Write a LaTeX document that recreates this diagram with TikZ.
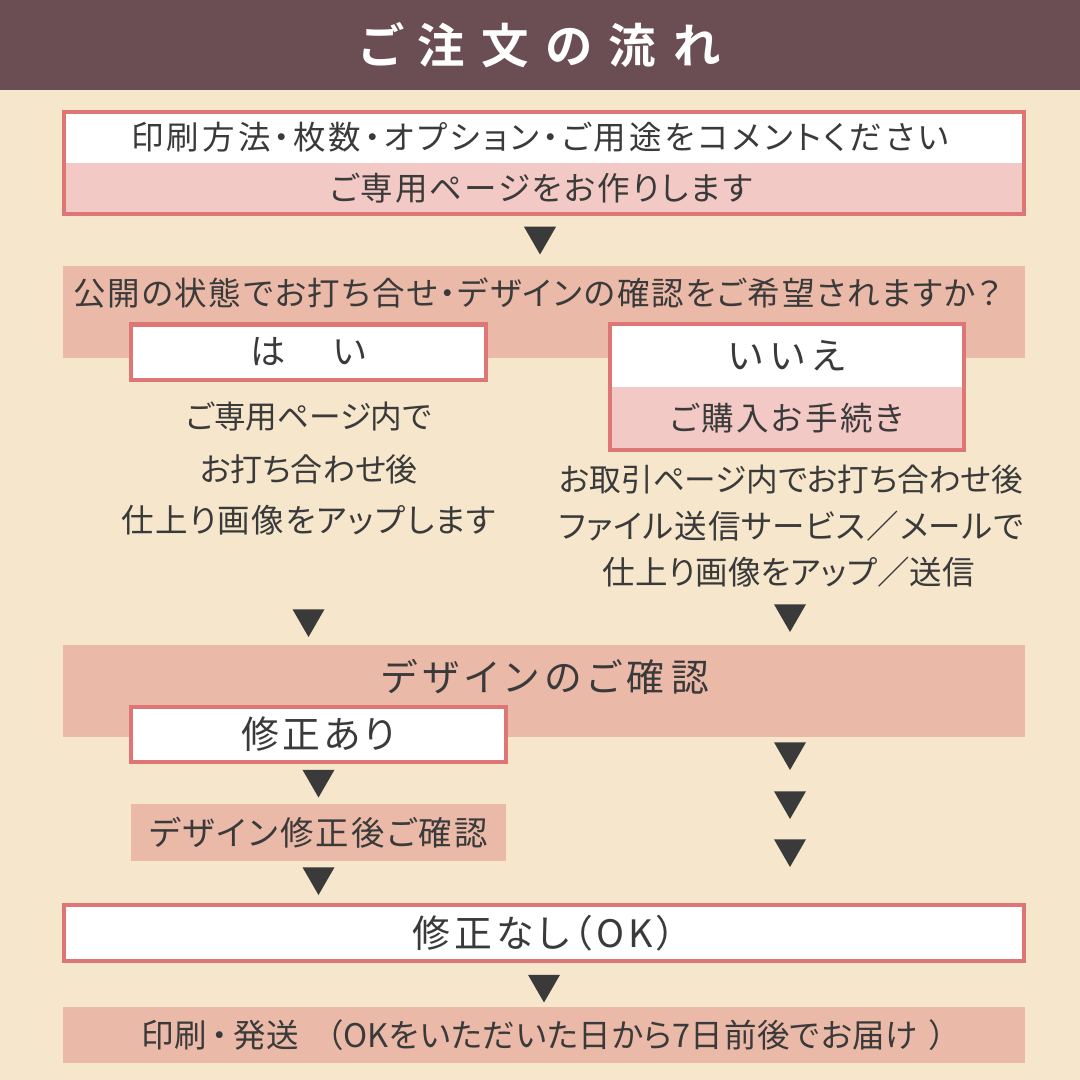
\documentclass[tikz,border=0pt]{standalone}
\usepackage{fontspec}
\setmainfont{Noto Sans CJK JP}[RawFeature=+palt]
\newfontfamily\titlefont{Noto Sans CJK JP}[LetterSpace=35,BoldFont={Noto Sans CJK JP Bold},RawFeature=+palt]
\newcommand{\fs}[2]{\fontsize{#1}{#1}\selectfont\addfontfeatures{LetterSpace=#2}}
\usetikzlibrary{shapes,arrows,positioning}
\definecolor{cream}{HTML}{F5E6CC}
\definecolor{plum}{HTML}{6B4D54}
\definecolor{salmon}{HTML}{EAB9A8}
\definecolor{blush}{HTML}{F2C9C4}
\definecolor{rosered}{HTML}{DF7676}
\definecolor{ink}{HTML}{3A3A3A}
\tikzstyle{band} = [rectangle, fill=salmon, text=ink, inner sep=0pt, minimum height=1.84cm, minimum width=19.24cm]
\tikzstyle{block} = [rectangle, fill=white, draw=rosered, line width=0.08cm, text=ink, inner sep=0pt, minimum height=1.1cm]
\tikzstyle{half} = [rectangle, text=ink, inner sep=0pt, minimum height=1.02cm]
\tikzstyle{frame} = [draw=rosered, line width=0.08cm]
\tikzstyle{note} = [text=ink, inner sep=0pt]
\tikzstyle{tip} = [regular polygon, regular polygon sides=3, shape border rotate=180, fill=ink, inner sep=0pt, minimum size=0.74cm]
\begin{document}
\begin{tikzpicture}[node distance = 2cm]
    \useasboundingbox (0,0) rectangle (21.6,-21.6);
    \fill[cream] (0,0) rectangle (21.6,-21.6);
    \node[rectangle, fill=plum, minimum width=21.6cm, minimum height=1.8cm, inner sep=0pt, text=white, font=\titlefont\bfseries\fontsize{27}{30}\selectfont] (title) at (10.8,-0.9) {ご注文の流れ};

    % order
    \node[half, fill=white, minimum width=19.2cm, font=\fs{18.5}{9.7}] (order) at (10.88,-2.75) {印刷方法・枚数・オプション・ご用途をコメントください\hspace*{0.16cm}};
    \node[half, fill=blush, minimum width=19.2cm, below of=order, node distance=1.02cm, font=\fs{18.5}{6.4}] (page) {ご専用ページをお作りします\hspace*{0.12cm}};
    \draw[frame] (order.north west) rectangle (page.south east);
    \node[tip, below of=page, node distance=0.95cm, xshift=-0.08cm] (t1) {};

    % public or not
    \node[band] (public) at (10.88,-6.24) {};
    \node[note, font=\fs{18.5}{5.4}] (ask) at (10.74,-5.86) {公開の状態でお打ち合せ・デザインの確認をご希望されますか？};
    \node[block, minimum width=7.1cm, font=\fs{20}{18.5}] (yes) at (6.17,-7.04) {は　い};
    \node[half, fill=white, minimum width=7.08cm, minimum height=1.26cm, font=\fs{21}{19}] (no) at (15.74,-7.11) {いいえ};
    \node[half, fill=blush, minimum width=7.08cm, minimum height=1.26cm, below of=no, node distance=1.26cm, font=\fs{18.5}{8}] (buy) {ご購入お手続き};
    \draw[frame] (no.north west) rectangle (buy.south east);

    \node[note, font=\fs{18}{0}] (y1) at (6.18,-8.34) {ご専用ページ内で};
    \node[note, below of=y1, node distance=1.04cm, font=\fs{18.2}{0}] (y2) {お打ち合わせ後};
    \node[note, below of=y2, node distance=1.02cm, font=\fs{18.5}{4}] (y3) {仕上り画像をアップします};
    \node[note, font=\fs{18}{0}] (n1) at (15.82,-9.6) {お取引ページ内でお打ち合わせ後};
    \node[note, below of=n1, node distance=0.92cm, font=\fs{18.5}{2.6}] (n2) {ファイル送信サービス／メールで};
    \node[note, below of=n2, node distance=0.92cm, font=\fs{18.5}{0.5}, xshift=-0.04cm] (n3) {仕上り画像をアップ／送信};
    \node[tip] (t2) at (6.17,-12.37) {};
    \node[tip] (t3) at (15.8,-12.27) {};

    % check
    \node[band] (check) at (10.88,-13.82) {};
    \node[note, font=\fs{21.5}{16.6}] (checktext) at (10.9,-13.54) {デザインのご確認};
    \node[block, minimum width=7.5cm, font=\fs{21.5}{9.5}] (fix) at (6.37,-14.68) {修正あり};
    \node[tip, below of=fix, node distance=0.9cm] (t4) {};
    \node[band, minimum width=7.5cm, minimum height=1.14cm, font=\fs{19}{6.6}] (refix) at (6.37,-16.65) {デザイン修正後ご確認};
    \node[tip] (t5) at (6.37,-17.53) {};
    \node[tip] (t6) at (15.8,-15.03) {};
    \node[tip, below of=t6, node distance=0.98cm] (t7) {};
    \node[tip, below of=t7, node distance=0.96cm] (t8) {};

    % finish
    \node[block, minimum width=19.2cm, minimum height=1.12cm, font=\fs{21.5}{10.6}] (ok) at (10.88,-18.66) {修正なし（OK）};
    \node[tip, below of=ok, node distance=1.02cm] (t9) {};
    \node[band, minimum height=1.12cm, font=\fs{18.5}{1.6}] (send) at (10.88,-20.7) {印刷\hspace{0.15em}・\hspace{0.15em}発送\hspace{0.85em}（OKをいただいた日から7日前後でお届け\hspace{0.4em}）};
\end{tikzpicture}
\end{document}
